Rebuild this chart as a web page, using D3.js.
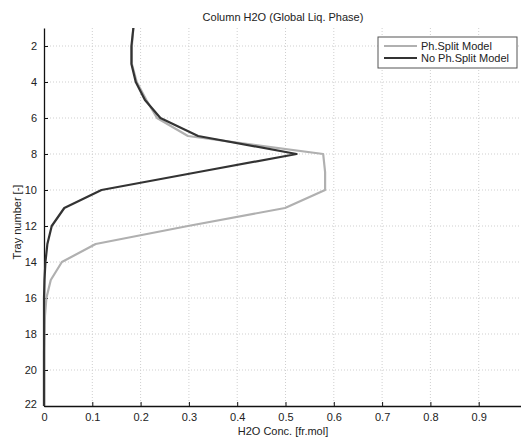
<!DOCTYPE html>
<html><head><meta charset="utf-8">
<script src="https://cdn.jsdelivr.net/npm/d3@7"></script>
<style>body{margin:0;background:#fff}svg{display:block;font-family:"Liberation Sans",Arial,sans-serif}</style>
</head><body>
<script>
const trays = [1,2,3,4,5,6,7,8,9,10,11,12,13,14,15,16,17,18,19,20,21,22];
const phSplit = [0.185,0.182,0.182,0.192,0.212,0.234,0.298,0.578,0.582,0.582,0.499,0.298,0.107,0.037,0.014,0.005,0.002,0.001,0,0,0,0];
const noPhSplit = [0.185,0.181,0.181,0.190,0.209,0.241,0.319,0.523,0.320,0.119,0.042,0.016,0.007,0.003,0.001,0,0,0,0,0,0,0];
const xTicks = [0,0.1,0.2,0.3,0.4,0.5,0.6,0.7,0.8,0.9];
const yTicks = [2,4,6,8,10,12,14,16,18,20,22];
const seriesNames = ["Ph.Split Model","No Ph.Split Model"];
const seriesColors = ["#b0b0b0","#333333"];

const W=521,H=437;
const svg=d3.select("body").append("svg").attr("width",W).attr("height",H);
const x=d3.scaleLinear().domain([0,1]).range([44,527]);
const y=d3.scaleLinear().domain([1,22]).range([28,406]);

// grid
const g=svg.append("g");
g.selectAll(".gx").data(xTicks.filter(d=>d>0)).enter().append("line")
 .attr("x1",d=>x(d)).attr("x2",d=>x(d)).attr("y1",y(1)).attr("y2",y(22))
 .attr("stroke","#cfcfcf").attr("stroke-width",1).attr("stroke-dasharray","1,2");
g.selectAll(".gy").data(yTicks.filter(d=>d<22)).enter().append("line")
 .attr("x1",x(0)).attr("x2",x(1)).attr("y1",d=>y(d)).attr("y2",d=>y(d))
 .attr("stroke","#cfcfcf").attr("stroke-width",1).attr("stroke-dasharray","1,2");

// axes
const xa=svg.append("g").attr("transform",`translate(0,${y(22)})`)
 .call(d3.axisBottom(x).tickValues(xTicks).tickFormat(d=>d===0?"0":d3.format(".1f")(d)).tickSizeInner(-4).tickSizeOuter(0).tickPadding(7));
const ya=svg.append("g").attr("transform",`translate(${x(0)},0)`)
 .call(d3.axisLeft(y).tickValues(yTicks).tickSizeInner(-4).tickSizeOuter(0).tickPadding(7));
[xa,ya].forEach(a=>{a.selectAll("text").attr("font-size",11).attr("fill","#222").attr("font-family","Liberation Sans, Arial, sans-serif");
 a.select(".domain").attr("stroke","#111").attr("stroke-width",1.3);
 a.selectAll(".tick line").attr("stroke","#111");});
ya.selectAll(".tick").filter(d=>d===22).select("text").attr("dy","0.1em");

// lines
const line=d3.line().x(d=>x(d[0])).y(d=>y(d[1]));
[phSplit,noPhSplit].forEach((s,i)=>{
 svg.append("path").datum(s.map((v,k)=>[v,trays[k]])).attr("d",line)
  .attr("fill","none").attr("stroke",seriesColors[i]).attr("stroke-width",2.2).attr("stroke-linejoin","round");
});

// title & labels
svg.append("text").attr("x",283).attr("y",21).attr("text-anchor","middle").attr("font-size",11).attr("fill","#222").text("Column H2O (Global Liq. Phase)");
svg.append("text").attr("x",283).attr("y",435).attr("text-anchor","middle").attr("font-size",11).attr("fill","#222").text("H2O Conc. [fr.mol]");
svg.append("text").attr("transform","translate(21,222) rotate(-90)").attr("text-anchor","middle").attr("font-size",11).attr("fill","#222").text("Tray number [-]");

// legend
const lg=svg.append("g");
lg.append("rect").attr("x",378).attr("y",37).attr("width",139).attr("height",31).attr("fill","#fff").attr("stroke","#555").attr("stroke-width",1);
seriesNames.forEach((n,i)=>{
 const yy=46+i*12;
 lg.append("line").attr("x1",384).attr("x2",417).attr("y1",yy).attr("y2",yy).attr("stroke",seriesColors[i]).attr("stroke-width",2.2);
 lg.append("text").attr("x",421).attr("y",yy+4).attr("font-size",11).attr("fill","#222").text(n);
});
</script>
</body></html>
